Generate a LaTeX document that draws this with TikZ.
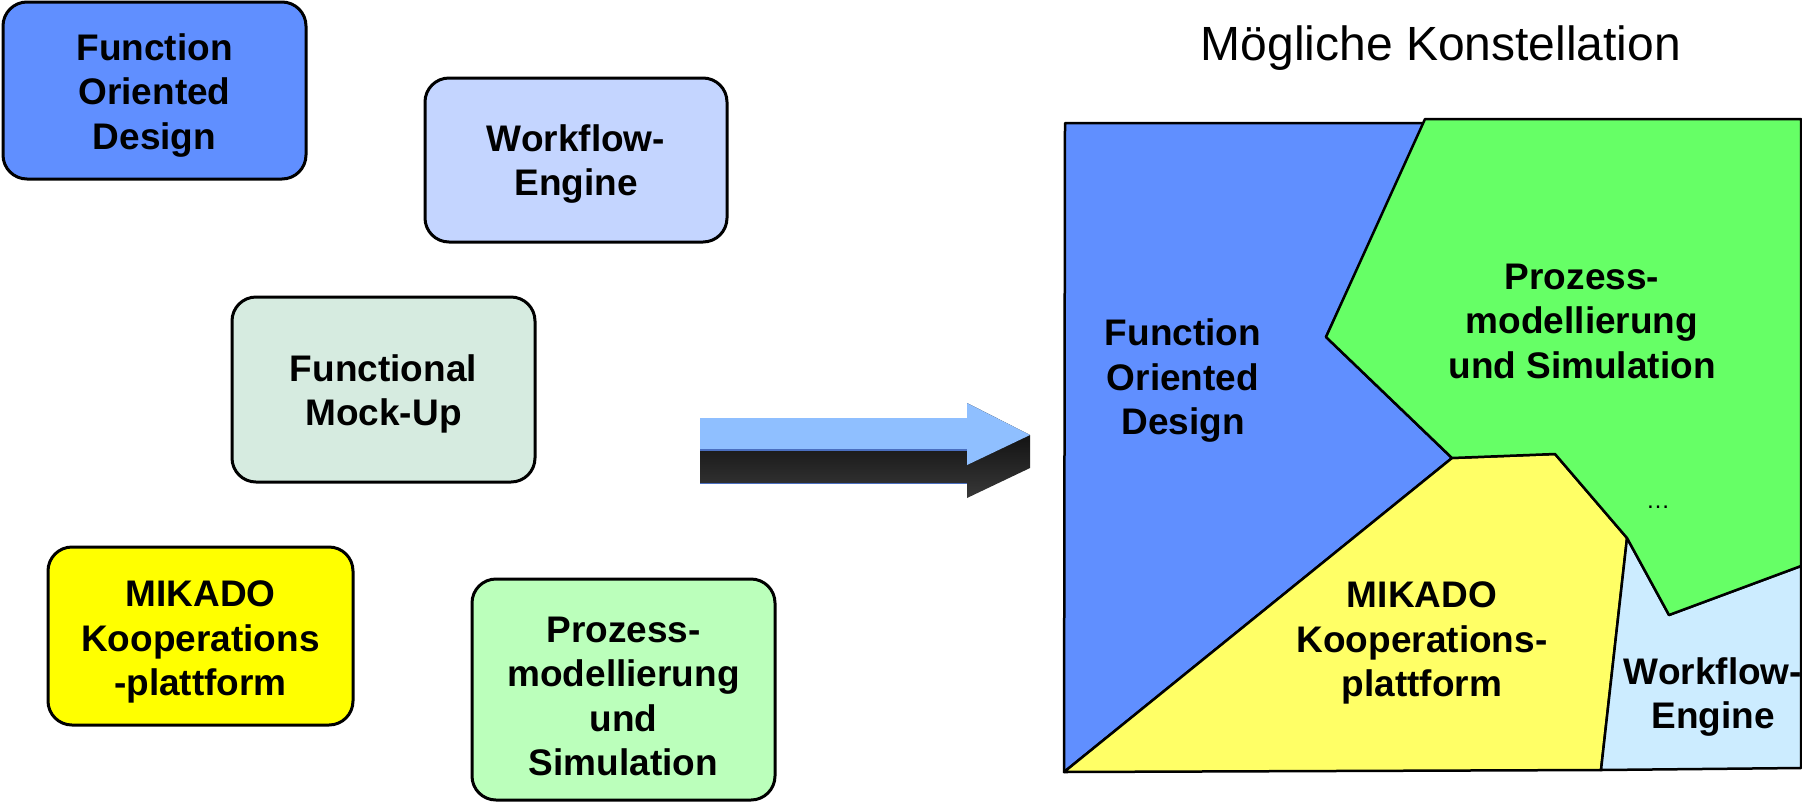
\documentclass[tikz,border=0pt]{standalone}
\usepackage{fontspec}
\setmainfont{Liberation Sans}
\definecolor{cFOD}{HTML}{608FFF}
\definecolor{cWF}{HTML}{C4D5FF}
\definecolor{cFMU}{HTML}{D6EBE0}
\definecolor{cMIK}{HTML}{FFFF00}
\definecolor{cPMS}{HTML}{BBFFBB}
\definecolor{rBlue}{HTML}{608FFF}
\definecolor{rGreen}{HTML}{66FF66}
\definecolor{rYellow}{HTML}{FFFF66}
\definecolor{rLight}{HTML}{CCECFF}
\definecolor{arrFace}{HTML}{8FBFFF}
\definecolor{arrEdge}{HTML}{4A6FC0}
\newcommand{\topgap}[1]{\rule{0pt}{#1pt}}
\begin{document}
\begin{tikzpicture}[x=1pt,y=-1pt,
  box/.style={draw=black, line width=3pt, rounded corners=24pt, align=center,
    font=\bfseries\fontsize{37}{44.5}\selectfont, inner sep=0pt},
  region/.style={draw=black, line width=2.5pt, line join=round},
  lbl/.style={align=center, font=\bfseries\fontsize{37}{44.5}\selectfont, inner sep=0pt}]
\useasboundingbox (0,0) rectangle (1802,807);

% left boxes
\node[box, fill=cFOD, minimum width=303pt, minimum height=177pt] (fod) at (154.5,90.5) {\topgap{36}Function\\Oriented\\Design};
\node[box, fill=cWF, minimum width=302pt, minimum height=164pt] (wf) at (576,160) {\topgap{35}Workflow-\\Engine};
\node[box, fill=cFMU, minimum width=303pt, minimum height=185pt] (fmu) at (383.5,389.5) {\topgap{36}Functional\\Mock-Up};
\node[box, fill=cMIK, minimum width=305pt, minimum height=178pt] (mik) at (200.5,636) {\topgap{38}MIKADO\\Kooperations\\-plattform};
\node[box, fill=cPMS, minimum width=303pt, minimum height=221pt] (pms) at (623.5,689.5) {\topgap{39}Prozess-\\modellierung\\und\\Simulation};

% 3D arrow
\shade[top color=black, bottom color=black!78] (700,418) -- (967,418) -- (967,403) -- (1030,435) -- (1030,468) -- (967,498) -- (967,483) -- (700,483) -- cycle;
\draw[arrEdge, line width=1pt] (700,483) -- (967,483);
\fill[arrFace] (700,418) -- (967,418) -- (967,403) -- (1030,435) -- (967,465) -- (967,450) -- (700,450) -- cycle;
\draw[arrEdge, line width=1.2pt] (700,450) -- (967,450);

% title
\node[font=\fontsize{48}{58}\selectfont, anchor=base, inner sep=0pt] (title) at (1441,60) {Mögliche Konstellation};

% right panel regions
\filldraw[region, fill=rBlue] (1065,123) -- (1425,123) -- (1326,337) -- (1452,458) -- (1064,772) -- cycle;
\filldraw[region, fill=rYellow] (1064,772) -- (1452,458) -- (1555,454) -- (1627,538) -- (1601,770) -- cycle;
\filldraw[region, fill=rLight] (1627,538) -- (1669,615) -- (1801,566) -- (1801,768) -- (1601,770) -- cycle;
\filldraw[region, fill=rGreen] (1425,119) -- (1801,119) -- (1801,566) -- (1669,615) -- (1627,538) -- (1555,454) -- (1452,458) -- (1326,337) -- cycle;

% right panel labels
\node[lbl] (rfod) at (1183,381) {Function\\Oriented\\Design};
\node[lbl] (rpms) at (1582,321) {Prozess-\\modellierung\\und Simulation};
\node[lbl] (rmik) at (1422,643) {MIKADO\\Kooperations-\\plattform};
\node[lbl] (rwf) at (1713,697) {Workflow-\\Engine};
\node[font=\fontsize{24}{28}\selectfont, anchor=base, inner sep=0pt] (dots) at (1658,508) {…};
\end{tikzpicture}
\end{document}
